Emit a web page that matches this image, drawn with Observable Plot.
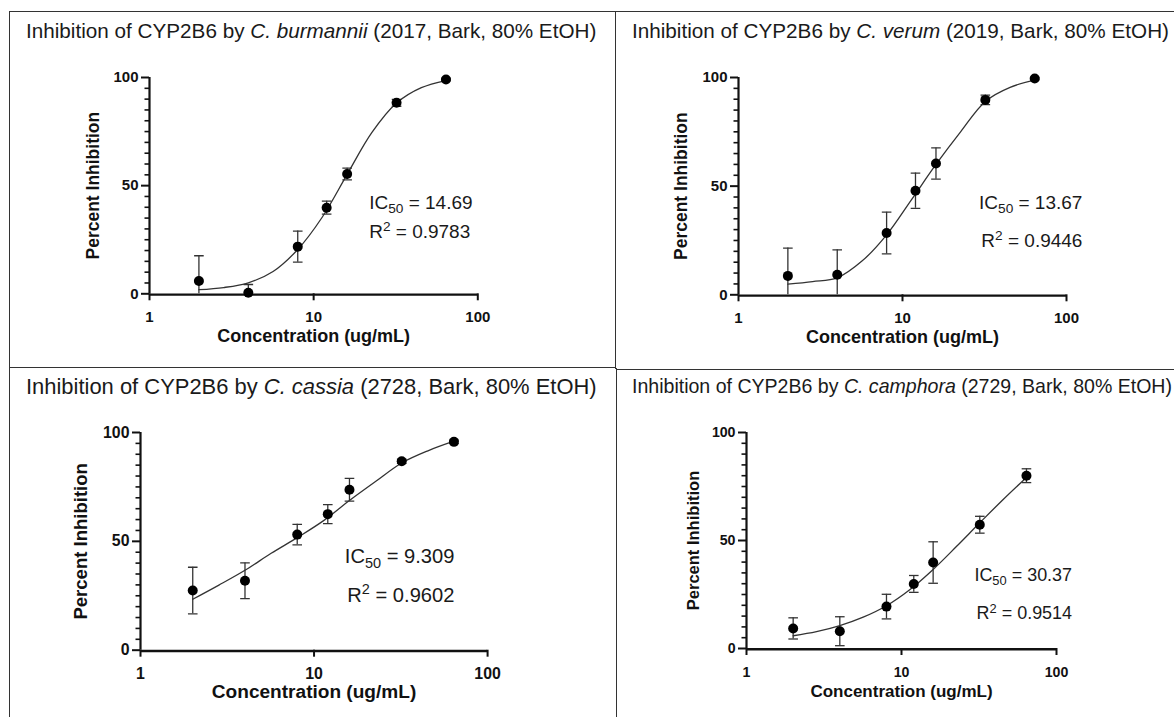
<!DOCTYPE html>
<html><head><meta charset="utf-8">
<script src="https://cdn.jsdelivr.net/npm/d3@7"></script>
<script src="https://cdn.jsdelivr.net/npm/@observablehq/plot@0.6"></script>
<style>
body{margin:0;background:#fff;}
#root{position:relative;width:1174px;height:717px;overflow:hidden;background:#fff;font-family:"Liberation Sans",Arial,Helvetica,sans-serif;}
.bline{position:absolute;background:#333;}
.title{position:absolute;white-space:nowrap;color:#1a1a1a;}
</style></head><body><div id="root"></div>
<script>
// ---- data ----
const concentrations = [2, 4, 8, 12, 16, 32, 64];
const fitConcentrations = [2, 2.83, 4, 5.66, 8, 11.3, 16, 22.6, 32, 45.3, 64];
const titlePrefix = "Inhibition of CYP2B6 by ";
const species = ["C. burmannii", "C. verum", "C. cassia", "C. camphora"];
const sampleInfo = ["(2017, Bark, 80% EtOH)", "(2019, Bark, 80% EtOH)", "(2728, Bark, 80% EtOH)", "(2729, Bark, 80% EtOH)"];

const meanBurmannii = [5.9, 0.5, 21.8, 39.8, 55.4, 88.3, 99.1];
const sdBurmannii   = [11.7, 3.8, 7.2, 3.0, 2.7, 1.6, 0.5];
const fitBurmannii  = [1.9, 2.9, 5.1, 10.3, 20.5, 35.5, 55.2, 74.5, 88.2, 95.3, 98.6];

const meanVerum = [8.7, 9.2, 28.4, 47.9, 60.4, 89.7, 99.5];
const sdVerum   = [12.8, 11.5, 9.6, 8.1, 7.2, 2.2, 0.5];
const fitVerum  = [4.9, 6.1, 7.8, 15.5, 27.6, 43.6, 60.0, 75.0, 89.0, 95.5, 98.8];

const meanCassia = [27.4, 31.9, 53.1, 62.5, 73.7, 86.8, 95.7];
const sdCassia   = [10.7, 8.2, 4.7, 4.4, 5.2, 1.0, 0.8];
const fitCassia  = [23.4, 29.9, 36.7, 44.5, 51.7, 59.4, 68.8, 77.5, 86.0, 91.6, 96.0];

const meanCamphora = [9.3, 8.0, 19.4, 29.9, 39.8, 57.3, 80.0];
const sdCamphora   = [4.9, 6.7, 5.7, 3.9, 9.6, 3.9, 3.2];
const fitCamphora  = [5.9, 7.8, 10.6, 14.5, 19.8, 27.2, 36.6, 47.2, 58.2, 69.0, 79.2];

const ic50Labels = ["IC50 = 14.69", "IC50 = 13.67", "IC50 = 9.309", "IC50 = 30.37"];
const r2Labels   = ["R2 = 0.9783", "R2 = 0.9446", "R2 = 0.9602", "R2 = 0.9514"];
const yTickMajor = [0, 50, 100];
const xTicks = [1, 10, 100];
const yTitle = "Percent Inhibition";
const xTitle = "Concentration (ug/mL)";

const means = [meanBurmannii, meanVerum, meanCassia, meanCamphora];
const sds = [sdBurmannii, sdVerum, sdCassia, sdCamphora];
const fits = [fitBurmannii, fitVerum, fitCassia, fitCamphora];

// ---- layout ----
const layout = [
  {k:1.0,   x0:148.5, x1:476.8, y100:76.7, y0:293, titleX:26, titleY:31.7, yOff:56, anchor:"start", ic:[21.8,42.2], r2:[21.8,28.7]},
  {k:1.0,   x0:738, x1:1066, y100:76.7, y0:294, titleX:632, titleY:31.7, yOff:57, anchor:"end", ic:[125,42.5], r2:[125,24.9]},
  {k:1.06,  x0:139.7, x1:486.8, y100:432.3, y0:650, titleX:26, titleY:386.7, yOff:59, anchor:"end", ic:[64.4,42.9], r2:[64.4,25.3]},
  {k:0.945, x0:746.4, x1:1056.4, y100:432.3, y0:648.3, titleX:632, titleY:386.7, yOff:53, anchor:"end", ic:[126,33.9], r2:[126,16.3]}
];
const font = '"Liberation Sans", Arial, Helvetica, sans-serif';
const root = document.getElementById("root");

function line(l, t, w, h) {
  const d = document.createElement("div");
  d.className = "bline";
  Object.assign(d.style, {left: l + "px", top: t + "px", width: w + "px", height: h + "px"});
  root.appendChild(d);
}
line(9, 10.5, 1165, 1.5);
line(8.5, 10.5, 1.5, 707);
line(614.5, 10.5, 1.5, 358);
line(615.5, 368, 1.5, 349);
line(9, 366.5, 607, 1.5);
line(615.5, 368.8, 559, 1.5);

const NS = "http://www.w3.org/2000/svg";
function tspan(txt, attrs) {
  const e = document.createElementNS(NS, "tspan");
  e.textContent = txt;
  for (const a in attrs) e.setAttribute(a, attrs[a]);
  return e;
}
function subscriptify(svg) {
  svg.querySelectorAll("text").forEach(t => {
    const s = t.textContent;
    let m;
    if ((m = s.match(/^IC50( = .*)$/))) {
      t.textContent = "";
      t.append(tspan("IC", {}), tspan("50", {"font-size": "0.72em", dy: "0.32em"}), tspan(m[1], {dy: "-0.23em"}));
    } else if ((m = s.match(/^R2( = .*)$/))) {
      t.textContent = "";
      t.append(tspan("R", {}), tspan("2", {"font-size": "0.72em", dy: "-0.5em"}), tspan(m[1], {dy: "0.36em"}));
    }
  });
}
const tickStrings = new Set([...yTickMajor, ...xTicks].map(String));

layout.forEach((L, i) => {
  const k = L.k;
  const title = document.createElement("div");
  title.className = "title";
  const tfs = 20.7 * k;
  title.style.fontSize = tfs + "px";
  title.style.lineHeight = tfs + "px";
  title.style.left = L.titleX + "px";
  title.style.top = (L.titleY - tfs / 2) + "px";
  title.append(titlePrefix);
  const it = document.createElement("i"); it.textContent = species[i];
  title.append(it, " " + sampleInfo[i]);
  root.appendChild(title);

  const mL = 110, mR = 60, mT = 30, mB = 75;
  const width = (L.x1 - L.x0) + mL + mR;
  const height = (L.y0 - L.y100) + mT + mB;
  const points = concentrations.map((c, j) => ({c, m: means[i][j], sd: sds[i][j]}));
  const fit = fitConcentrations.map((c, j) => ({c, v: fits[i][j]}));
  const capK = Math.pow(10, 4.8 / ((L.x1 - L.x0) / 2));
  const minor = d3.range(0, 101, 5).filter(v => v % 50 !== 0);

  const svg = Plot.plot({
    width, height, marginLeft: mL, marginRight: mR, marginTop: mT, marginBottom: mB,
    style: {fontFamily: font, background: "transparent", overflow: "visible", color: "#111"},
    x: {type: "log", domain: [1, 100]},
    y: {domain: [0, 100]},
    marks: [
      Plot.axisY(minor, {tickSize: 4.5, tickFormat: () => "", strokeWidth: 1.6, label: null}),
      Plot.axisY(yTickMajor, {tickSize: 8, tickPadding: 3, strokeWidth: 2, label: null, tickFormat: d => String(d)}),
      Plot.axisX(xTicks, {tickSize: 7, tickPadding: 11, strokeWidth: 2, label: null, tickFormat: d => String(d)}),
      Plot.ruleX([1], {y1: 0, y2: 100, strokeWidth: 2.2, stroke: "#111"}),
      Plot.ruleY([0], {x1: 1, x2: 100, strokeWidth: 2.4, stroke: "#111", dy: 0.8}),
      Plot.ruleX(points, {x: "c", y1: d => d.m - d.sd, y2: d => d.m + d.sd, stroke: "#333", strokeWidth: 1.3, clip: true}),
      Plot.link(points, {x1: d => d.c / capK, x2: d => d.c * capK, y1: d => d.m + d.sd, y2: d => d.m + d.sd, stroke: "#333", strokeWidth: 1.3, clip: true}),
      Plot.link(points, {x1: d => d.c / capK, x2: d => d.c * capK, y1: d => d.m - d.sd, y2: d => d.m - d.sd, stroke: "#333", strokeWidth: 1.3, clip: true}),
      Plot.line(fit, {x: "c", y: "v", curve: "catmull-rom", stroke: "#333", strokeWidth: 1.3}),
      Plot.dot(points, {x: "c", y: "m", r: 5, fill: "#000", stroke: null}),
      Plot.text([ic50Labels[i]], {x: L.ic[0], y: L.ic[1], text: d => d, textAnchor: L.anchor, fontSize: 19 * k, fill: "#1a1a1a"}),
      Plot.text([r2Labels[i]], {x: L.r2[0], y: L.r2[1], text: d => d, textAnchor: L.anchor, fontSize: 19 * k, fill: "#1a1a1a"}),
      Plot.text([yTitle], {frameAnchor: "left", rotate: -90, dx: -L.yOff, textAnchor: "middle", text: d => d, fontSize: 17.5 * k, fontWeight: "bold", fill: "#111"}),
      Plot.text([xTitle], {frameAnchor: "bottom", dy: 48, textAnchor: "middle", text: d => d, fontSize: 18 * k, fontWeight: "bold", fill: "#111"})
    ]
  });
  subscriptify(svg);
  svg.querySelectorAll("text").forEach(t => {
    if (tickStrings.has(t.textContent.trim())) {
      t.setAttribute("font-size", 15 * k);
      t.setAttribute("font-weight", "bold");
      t.style.fontSize = (15 * k) + "px";
      t.style.fontWeight = "bold";
    }
  });
  svg.style.position = "absolute";
  svg.style.left = (L.x0 - mL) + "px";
  svg.style.top = (L.y100 - mT) + "px";
  root.appendChild(svg);
});
</script></body></html>
